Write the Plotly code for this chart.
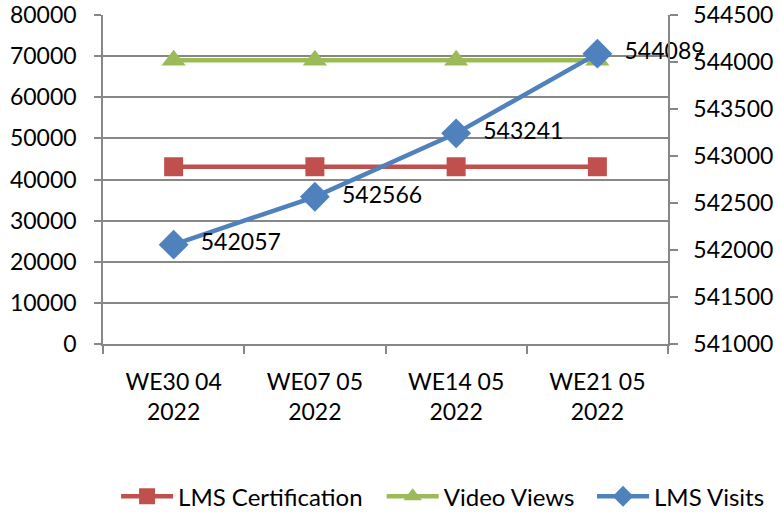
import plotly.graph_objects as go

categories = ["WE30 04<br>2022", "WE07 05<br>2022", "WE14 05<br>2022", "WE21 05<br>2022"]
lms_certification = [43100, 43100, 43100, 43100]
video_views = [69000, 69000, 69000, 69000]
lms_visits = [542057, 542566, 543241, 544089]

FONT = "Lato"
FS = 23
GRID = "#878787"

fig = go.Figure()
fig.add_trace(go.Scatter(
    x=categories, y=lms_certification, name="LMS Certification",
    mode="lines+markers", legend="legend",
    line=dict(color="#C0504D", width=4.5),
    marker=dict(symbol="square", size=19, color="#C0504D"),
))
fig.add_trace(go.Scatter(
    x=categories, y=video_views, name="Video Views",
    mode="lines+markers", legend="legend2",
    line=dict(color="#9BBB59", width=4.5),
    marker=dict(symbol="triangle-up", size=21, color="#9BBB59"),
))
fig.add_trace(go.Scatter(
    x=categories, y=lms_visits, name="LMS Visits",
    mode="lines+markers+text", yaxis="y2", legend="legend3",
    text=["  " + str(v) for v in lms_visits],
    textposition="middle right",
    textfont=dict(family=FONT, size=FS, color="black"),
    cliponaxis=False,
    line=dict(color="#4F81BD", width=4.5),
    marker=dict(symbol="diamond", size=23, color="#4F81BD"),
))


def leg(xpos):
    return dict(
        orientation="h", xref="container", yref="container",
        x=xpos, xanchor="left", y=0.03, yanchor="middle",
        font=dict(family=FONT, size=24, color="black"),
        itemwidth=52, bgcolor="rgba(0,0,0,0)",
    )


fig.update_layout(
    width=779, height=512,
    margin=dict(l=103, r=111, t=15, b=168, autoexpand=False),
    paper_bgcolor="white", plot_bgcolor="white",
    font=dict(family=FONT, size=FS, color="black"),
    showlegend=True,
    legend=leg(0.149),
    legend2=leg(0.490),
    legend3=leg(0.760),
    xaxis=dict(
        type="category", range=[-0.5, 3.5],
        showline=True, linecolor=GRID, linewidth=1.5,
        ticks="outside", tickson="boundaries", ticklen=8, tickcolor=GRID, tickwidth=1.5,
        showgrid=False, ticklabelstandoff=17, automargin=False,
    ),
    yaxis=dict(
        range=[0, 80000], dtick=10000, tickformat="d",
        showline=True, linecolor=GRID, linewidth=1.5,
        ticks="outside", ticklen=7, tickcolor=GRID, tickwidth=1.5,
        showgrid=True, gridcolor=GRID, gridwidth=1.5,
        zeroline=False, ticklabelstandoff=13, automargin=False,
        ticklabeloverflow="allow",
    ),
    yaxis2=dict(
        overlaying="y", side="right",
        range=[541000, 544500], dtick=500, tickformat="d",
        showline=True, linecolor=GRID, linewidth=1.5,
        ticks="outside", ticklen=8, tickcolor=GRID, tickwidth=1.5,
        showgrid=False, zeroline=False, ticklabelstandoff=11, automargin=False,
        ticklabeloverflow="allow",
    ),
)

fig.write_html("out.html", config={"displayModeBar": False},
               post_script="document.body.style.margin='0';")
